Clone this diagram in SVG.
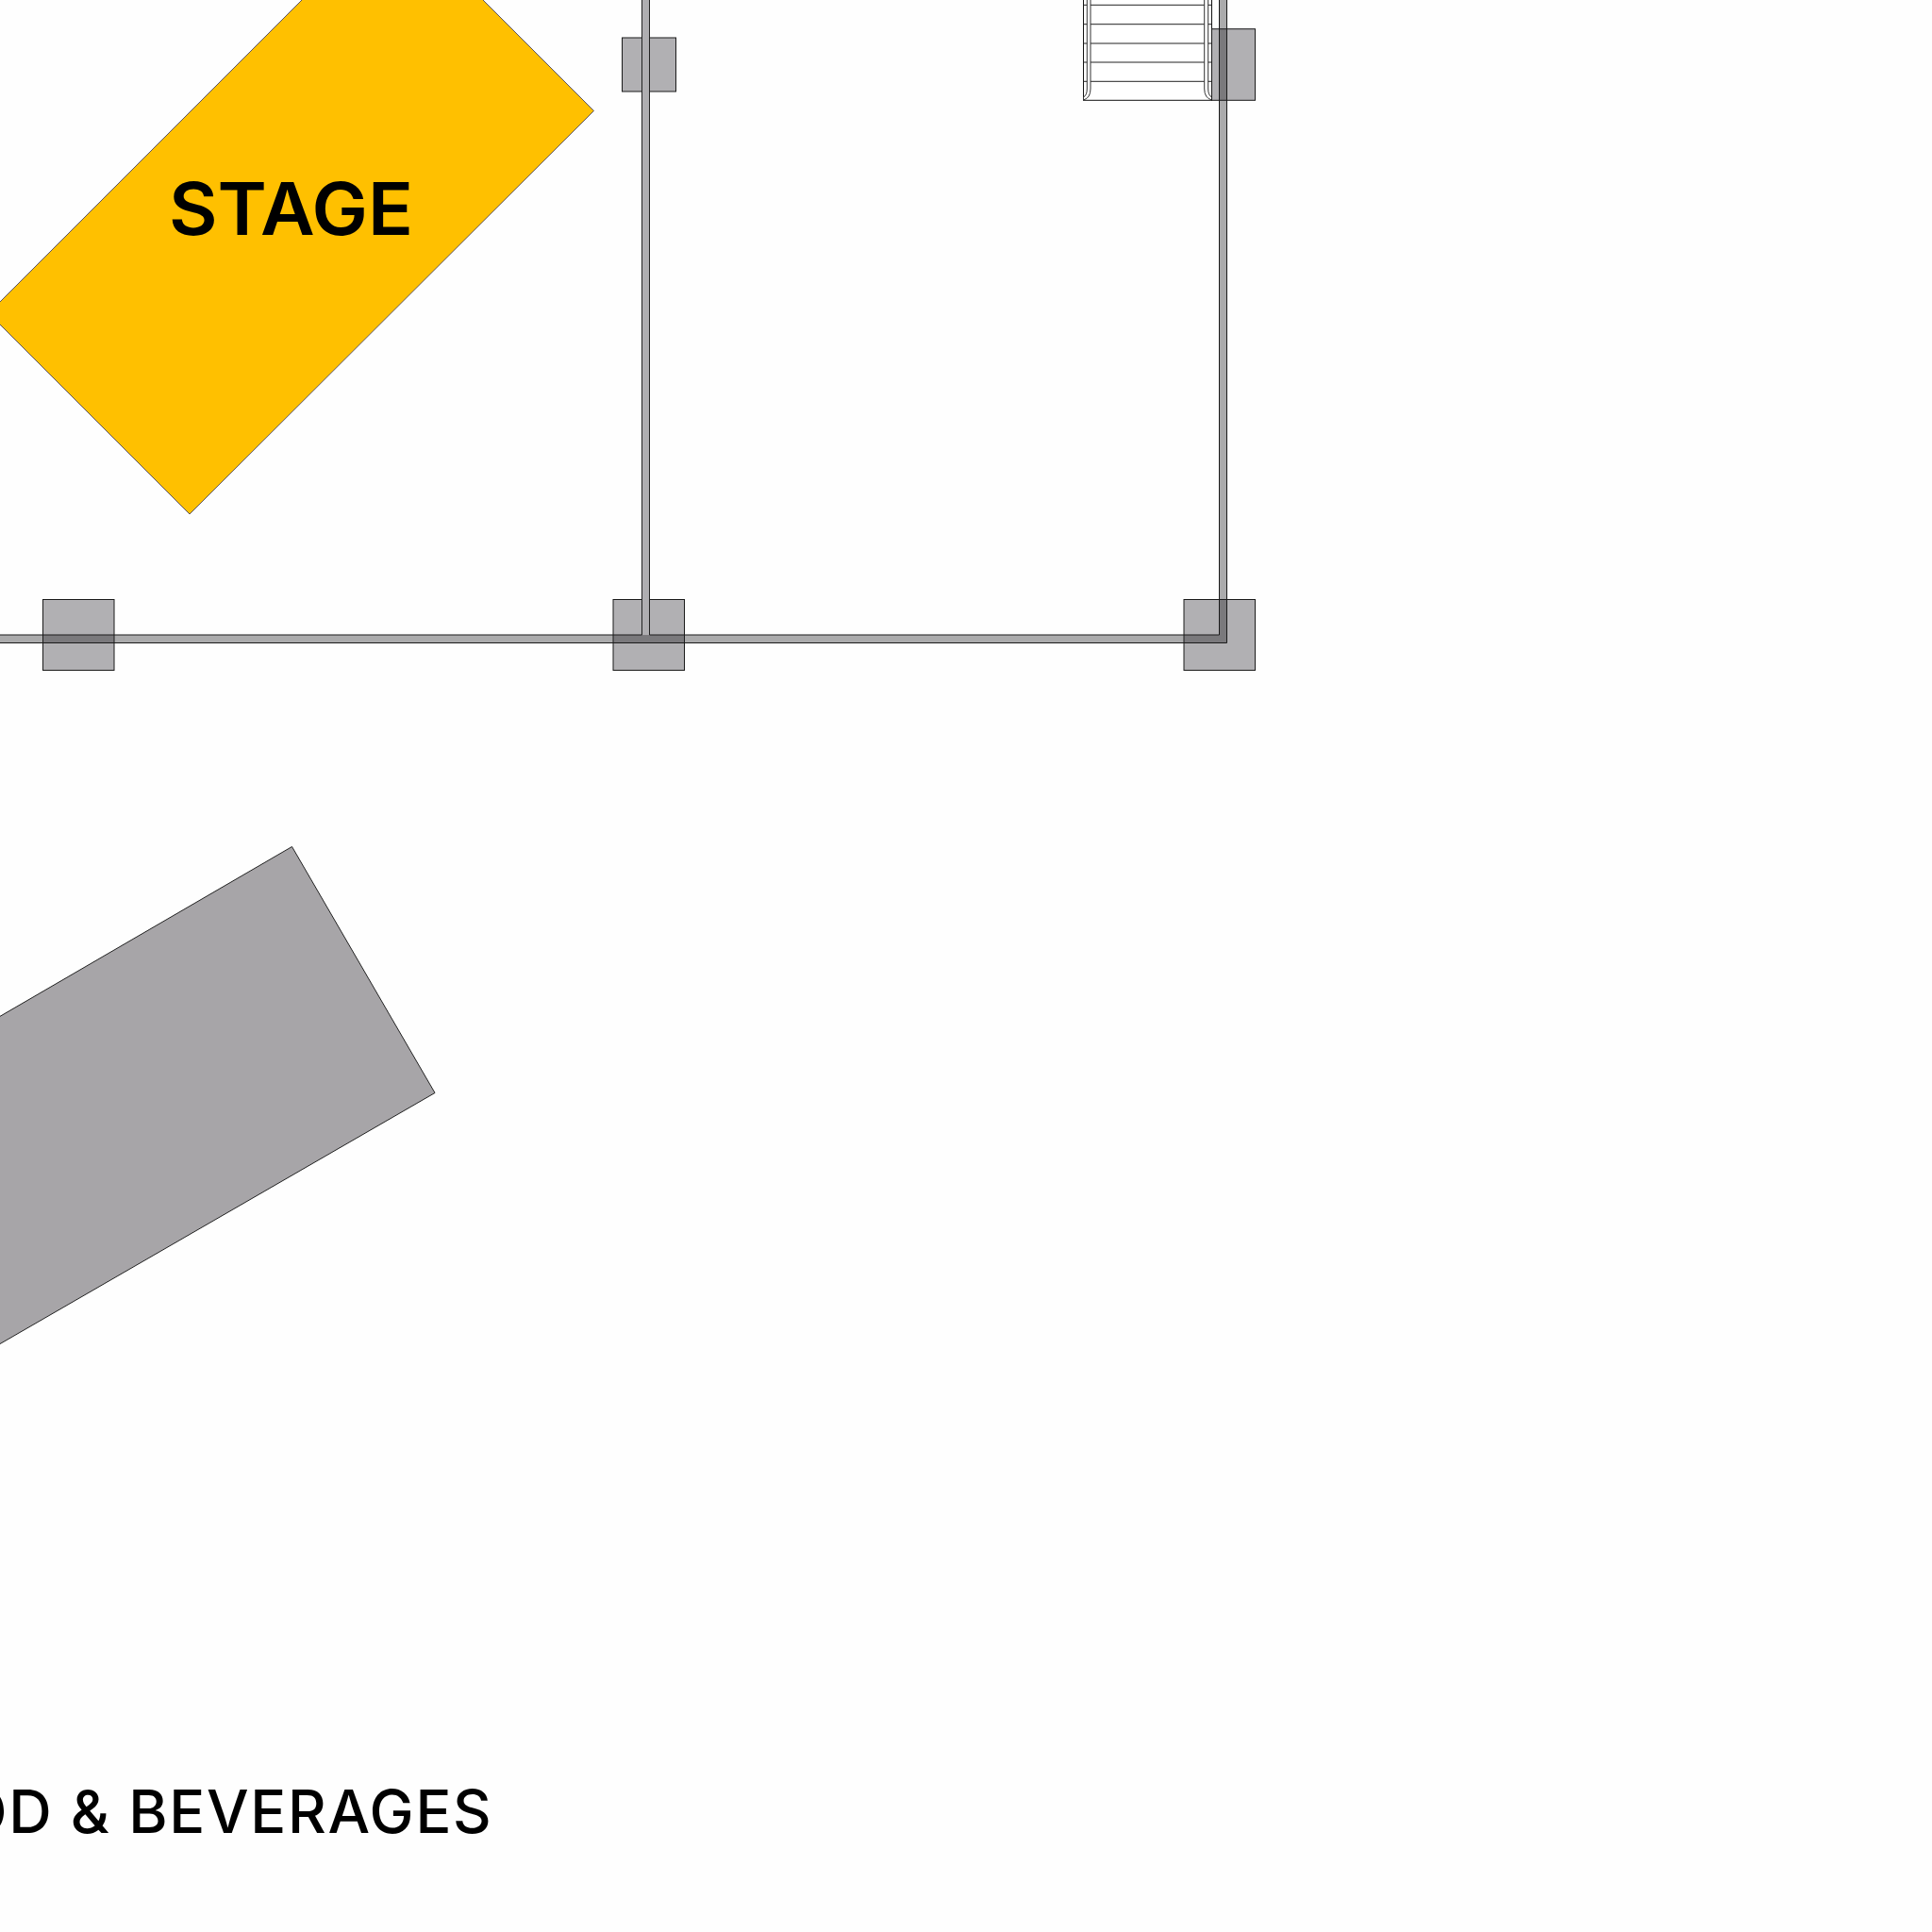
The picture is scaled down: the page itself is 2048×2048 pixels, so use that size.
<svg xmlns="http://www.w3.org/2000/svg" width="2048" height="2048" viewBox="0 0 2048 2048">
<style>
.l{stroke:#222;stroke-width:1;fill:none}
.p{fill:#b1b0b3;stroke:#1a1a1a;stroke-width:1}
.w{fill:#1a181c;fill-opacity:.36;stroke:#1a1a1a;stroke-width:1}
.v{fill:#afaeb1}
.r{fill:#fff;stroke:#333;stroke-width:1}
.t{font-family:"Inter","Liberation Sans",sans-serif;fill:#000}
</style>
<rect width="2048" height="2048" fill="#fefefe"/>
<g id="stage">
<polygon points="416,-96 629.5,117.5 201,545 -12,332" fill="#ffc000" stroke="#33305a" stroke-width=".8"/>
<text class="t" x="308.500" y="249" text-anchor="middle" font-size="77" font-weight="600" textLength="259" lengthAdjust="spacingAndGlyphs">STAGE</text>
</g>
<g id="block">
<polygon points="309.5,897.5 461,1158.500 -200,1540 -200,1193.600" fill="#a7a5a8" stroke="#222" stroke-width="1"/>
</g>
<g id="stairs">
<rect x="1148.500" y="-2" width="136" height="108.300" fill="#fff" stroke="#111" stroke-width="1"/>
<path class="l" d="M1148.500 5.300H1284.500M1148.500 25.700H1284.500M1148.500 46H1284.500M1148.500 66H1284.500M1148.500 86.300H1284.500"/>
<path class="r" d="M1156-2V94Q1156 104 1148.500 106L1148.500 103Q1152.300 101 1152.300 94V-2Z"/>
<path class="r" d="M1276.700-2V94Q1276.700 104 1284.500 106L1284.500 103Q1280.700 101 1280.700 94V-2Z"/>
</g>
<g id="pillars">
<rect id="p1" class="p" x="659.500" y="40" width="57" height="57"/>
<rect id="p2" class="p" x="1284.500" y="30.700" width="46" height="75.600"/>
<rect id="p3" class="p" x="45.500" y="635.500" width="75.500" height="75"/>
<rect id="p4" class="p" x="650" y="635.500" width="75.500" height="75"/>
<rect id="p5" class="p" x="1255" y="635.500" width="75.500" height="75"/>
</g>
<g id="walls">
<path class="w" d="M-2 673H1292.500V-2H1300.500V681.500H-2Z"/>
<rect class="v" x="680.500" y="-2" width="8" height="675.500"/>
<path class="l" d="M680.500-2V673M688.500-2V673"/>
</g>
<g id="label">
<text class="t" x="522.500" y="1942.500" text-anchor="end" font-size="63" font-weight="500" letter-spacing="1.700">FOOD &amp; BEVERAGES</text>
</g>
</svg>
